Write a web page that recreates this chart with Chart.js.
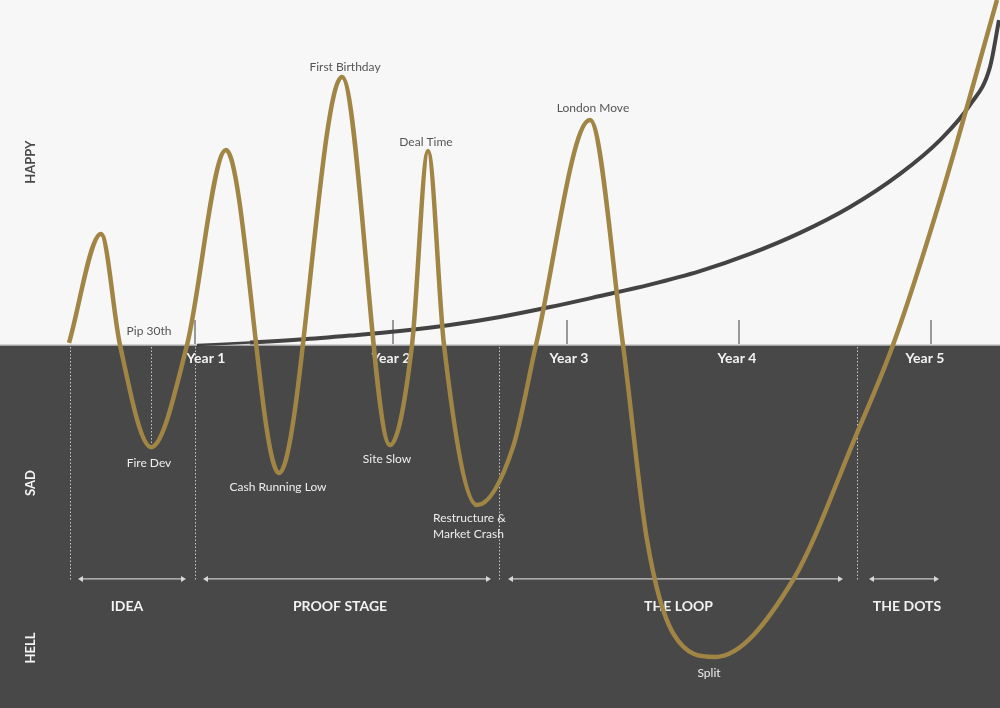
<!DOCTYPE html>
<html>
<head>
<meta charset="utf-8">
<script src="https://cdn.jsdelivr.net/npm/chart.js@4/dist/chart.umd.min.js"></script>
<style>
body{margin:0;background:#f7f7f7}
#wrap{width:1000px;height:708px}
</style>
</head>
<body>
<div id="wrap"><canvas id="journeyChart" width="1000" height="708"></canvas></div>
<script>
// DATA  (x = position on the timeline 0..100, y = mood, 0 = neutral, 100 = top)

// highs, lows and the points where the mood crosses neutral
const goldX = [6.9,10.1,12.0,15.1,18.7,22.6,27.9,34.2,39.0,41.2,42.8,44.4,47.7,51.3,53.6,59.0,62.3,64.7,67.3,71.5,79.3,85.7,89.3,94.0,99.7]
const goldY = [0.6,32.2,0,-29.6,0,56.5,-37.1,77.7,-29.0,0,56.2,0,-46.4,-29.6,0,65.2,0,-56.5,-83.5,-90.4,-68.1,-25.5,0,42.0,100]

const trendX = [19.7,25,30,35,40,45,50,55,60,65,70,75,80,85,90,94,97,99,99.9]
const trendY = [0,0.72,1.59,2.75,4.06,5.8,8.12,11.0,14.2,17.5,21.4,26.4,32.5,40.0,49.6,59.4,69.6,80.6,94.2]

const yearTicks = [19.5,39.3,56.7,73.9,93.1]
const yearLabels = ['Year 1','Year 2','Year 3','Year 4','Year 5']

const stageNames = ['IDEA','PROOF STAGE','THE LOOP','THE DOTS']
const stageStart = [7.8,20.3,50.8,86.9]
const stageEnd = [18.6,49.1,84.3,93.9]
const stageBounds = [7.0,19.5,49.9,85.7]

const eventNames = ['Pip 30th','Fire Dev','Cash Running Low','First Birthday','Site Slow','Deal Time','Restructure &|Market Crash','London Move','Split']


function toPoints(xs, ys){
let pts = []
for(let i=0;i<xs.length;i++){
pts.push({x: xs[i], y: ys[i]})
}
return pts
}


// DECORATION PLUGIN

const GOLD = '#a08545'
const FONT = 'Lato, "Open Sans", sans-serif'

// where each event label sits (timeline x, mood y of the text centre)
const eventLabelPos = [[14.9,4.1],[14.9,-34.2],[27.8,-41.2],[34.5,80.6],[38.7,-33.0],[42.6,58.8],[43.3,-50.1],[59.3,68.7],[70.9,-95.1]]
const yearLabelShift = [11,-2,2,-2,-6]

const journeyPlugin = {

id: 'journey',

beforeDraw(chart){
const {ctx, chartArea, scales} = chart
let zero = scales.y.getPixelForValue(0)
ctx.save()
ctx.fillStyle = '#f7f7f7'
ctx.fillRect(chartArea.left, chartArea.top, chartArea.right - chartArea.left, zero - chartArea.top)
ctx.fillStyle = '#484848'
ctx.fillRect(chartArea.left, zero, chartArea.right - chartArea.left, chartArea.bottom - zero)
ctx.strokeStyle = '#c4c4c4'
ctx.lineWidth = 1.5
ctx.beginPath()
ctx.moveTo(chartArea.left, zero)
ctx.lineTo(chartArea.right, zero)
ctx.stroke()
ctx.restore()
},

beforeDatasetsDraw(chart){
const {ctx, scales} = chart
const X = v => scales.x.getPixelForValue(v)
const Y = v => scales.y.getPixelForValue(v)
let zero = Y(0)

ctx.save()
ctx.textBaseline = 'middle'
ctx.textAlign = 'center'

// side labels
let sides = [['HAPPY', 53, '#4a4a4a'], ['SAD', -40, '#f4f4f4'], ['HELL', -87.8, '#f4f4f4']]
ctx.font = 'bold 13px ' + FONT
for(let s of sides){
ctx.save()
ctx.translate(X(3.1), Y(s[1]))
ctx.rotate(-Math.PI/2)
ctx.fillStyle = s[2]
ctx.fillText(s[0], 0, 0)
ctx.restore()
}

// event labels
ctx.font = '12px ' + FONT
for(let i=0;i<eventNames.length;i++){
let lx = X(eventLabelPos[i][0])
let ly = Y(eventLabelPos[i][1])
ctx.fillStyle = ly < zero ? '#555555' : '#eeeeee'
let lines = eventNames[i].split('|')
if(lines.length > 1){
ctx.textAlign = 'left'
ctx.fillText(lines[0], lx, ly)
ctx.fillText(lines[1], lx, ly + 16)
ctx.textAlign = 'center'
} else {
ctx.fillText(lines[0], lx, ly)
}
}

// stage labels and arrows
let arrowY = Y(-67.8)
ctx.font = 'bold 14px ' + FONT
let labelShift = [-5, -7, 3, 3]
for(let i=0;i<stageNames.length;i++){
let a = X(stageStart[i]), b = X(stageEnd[i])
ctx.fillStyle = '#f2f2f2'
ctx.fillText(stageNames[i], (a + b) / 2 + labelShift[i], Y(-75.7))
ctx.strokeStyle = '#c8c8c8'
ctx.lineWidth = 1.2
ctx.beginPath()
ctx.moveTo(a + 2, arrowY)
ctx.lineTo(b - 2, arrowY)
ctx.stroke()
ctx.fillStyle = '#d8d8d8'
ctx.beginPath()
ctx.moveTo(a, arrowY); ctx.lineTo(a + 5, arrowY - 3); ctx.lineTo(a + 5, arrowY + 3)
ctx.closePath(); ctx.fill()
ctx.beginPath()
ctx.moveTo(b, arrowY); ctx.lineTo(b - 5, arrowY - 3); ctx.lineTo(b - 5, arrowY + 3)
ctx.closePath(); ctx.fill()
}

// dotted stage bounds
ctx.strokeStyle = 'rgba(225,225,225,0.85)'
ctx.lineWidth = 1
ctx.setLineDash([1.5, 2])
let bottom = Y(-68.4)
for(let bx of stageBounds){
let px = Math.round(X(bx)) + 0.5
ctx.beginPath()
ctx.moveTo(px, zero + 2)
ctx.lineTo(px, bottom)
ctx.stroke()
}
// Pip 30th marker down to the Fire Dev low
let pip = Math.round(X(15.1)) + 0.5
ctx.beginPath()
ctx.moveTo(pip, zero + 2)
ctx.lineTo(pip, Y(-29.6))
ctx.stroke()
ctx.setLineDash([])

// year ticks
ctx.strokeStyle = '#7a7a7a'
ctx.lineWidth = 1.5
ctx.font = 'bold 14px ' + FONT
ctx.fillStyle = '#f2f2f2'
for(let i=0;i<yearTicks.length;i++){
let px = Math.round(X(yearTicks[i]))
ctx.beginPath()
ctx.moveTo(px, zero - 1)
ctx.lineTo(px, zero - 25)
ctx.stroke()
ctx.fillText(yearLabels[i], px + yearLabelShift[i], zero + 13)
}

ctx.restore()
}

}


// CHART

const ctx = document.getElementById('journeyChart')

new Chart(ctx, {

type: 'line',

data: {

datasets: [
{
label: 'Journey',
data: toPoints(goldX, goldY),
borderColor: GOLD,
borderWidth: 4.5,
pointRadius: 0,
cubicInterpolationMode: 'monotone',
fill: false
},
{
label: 'Trend',
data: toPoints(trendX, trendY),
borderColor: '#434343',
borderWidth: 4,
pointRadius: 0,
cubicInterpolationMode: 'monotone',
fill: false,
segment: {
borderWidth: c => c.p0DataIndex === 0 ? 2.5 : 4
}
}
]

},

options: {

responsive: false,
animation: false,
layout: {padding: 0},

plugins: {
legend: {display: false},
tooltip: {enabled: false}
},

scales: {
x: {type: 'linear', min: 0, max: 100, display: false},
y: {min: -105.2, max: 100, display: false}
}

},

plugins: [journeyPlugin]

})
</script>
</body>
</html>
